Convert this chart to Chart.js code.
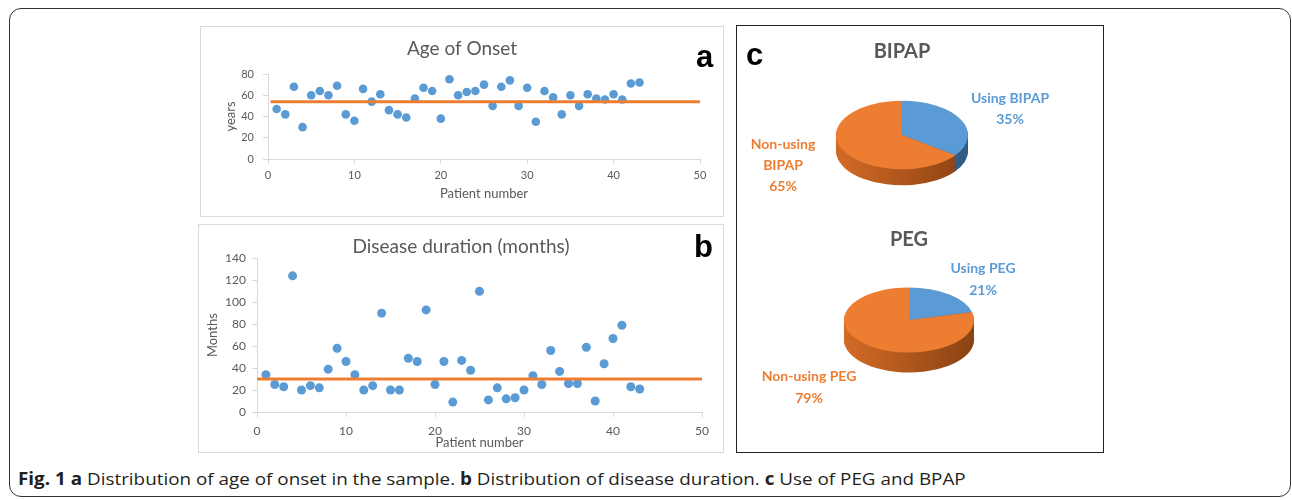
<!DOCTYPE html>
<html>
<head>
<meta charset="utf-8">
<script src="https://cdn.jsdelivr.net/npm/chart.js@4.4.1/dist/chart.umd.min.js"></script>
<style>
  body { margin: 0; width: 1292px; height: 500px; background: #fff; position: relative; overflow: hidden; font-family: Lato, sans-serif; }
  .abs { position: absolute; box-sizing: border-box; }
  #frame { left: 9px; top: 8px; width: 1282px; height: 489px; border: 1.5px solid #333; border-radius: 12px; }
  #boxA { left: 200px; top: 26px; width: 524px; height: 191px; border: 1.5px solid #d9d9d9; }
  #boxB { left: 198px; top: 224px; width: 526px; height: 229px; border: 1.5px solid #d9d9d9; }
  #boxC { left: 736px; top: 25px; width: 368px; height: 428px; border: 1.5px solid #222; }
  .letter { font-family: "Liberation Sans", Arial, sans-serif; font-weight: bold; font-size: 31px; line-height: 1; color: #000; }
  #caption { left: 18px; top: 468px; font-family: "Open Sans", sans-serif; font-size: 17px; line-height: 22px; color: #231f20; white-space: nowrap; transform-origin: 0 0; }
  canvas { position: absolute; }
</style>
</head>
<body>
<div id="frame" class="abs"></div>
<div id="boxA" class="abs"></div>
<div id="boxB" class="abs"></div>
<div id="boxC" class="abs"></div>
<canvas id="chartA" width="524" height="191" style="left:200px;top:26px"></canvas>
<canvas id="chartB" width="526" height="229" style="left:198px;top:224px"></canvas>
<canvas id="chartBipap" width="366" height="194" style="left:737px;top:26px"></canvas>
<canvas id="chartPeg" width="366" height="232" style="left:737px;top:220px"></canvas>
<div class="abs letter" style="left:696px;top:41px">a</div>
<div class="abs letter" style="left:694px;top:231px">b</div>
<div class="abs letter" style="left:746px;top:39px">c</div>
<div id="caption" class="abs"><b>Fig. 1</b> <b>a</b> Distribution of age of onset in the sample. <b>b</b> Distribution of disease duration. <b>c</b> Use of PEG and BPAP</div>
<script>
// patient number on the x axis
const patients = [1, 2, 3, 4, 5, 6, 7, 8, 9, 10, 11, 12, 13, 14, 15, 16, 17, 18, 19, 20, 21, 22,
  23, 24, 25, 26, 27, 28, 29, 30, 31, 32, 33, 34, 35, 36, 37, 38, 39, 40, 41, 42, 43]

// age of onset, years
const ageOnset = [47, 42, 68, 30, 60, 64, 60, 69, 42, 36, 66, 54, 61, 46, 42, 39, 57, 67, 64, 38, 75, 60,
  63, 64, 70, 50, 68, 74, 50, 67, 35, 64, 58, 42, 60, 50, 61, 57, 56, 61, 56, 71, 72]
const ageMeanX = [0.3, 50]
const ageMeanY = [54, 54]

// disease duration, months
const durationMonths = [34, 25, 23, 124, 20, 24, 22, 39, 58, 46, 34, 20, 24, 90, 20, 20, 49, 46, 93, 25, 46, 9,
  47, 38, 110, 11, 22, 12, 13, 20, 33, 25, 56, 37, 26, 26, 59, 10, 44, 67, 79, 23, 21]
const durationMeanX = [0, 50]
const durationMeanY = [30, 30]

// pies
const bipapLabels = ['Using BIPAP', 'Non-using BIPAP']
const bipapValues = [35, 65]
const pegLabels = ['Using PEG', 'Non-using PEG']
const pegValues = [21, 79]

const blue = '#5B9BD5'
const orange = '#ED7D31'
const grey = '#595959'
const axisGrey = '#d9d9d9'

Chart.defaults.font.family = 'Lato'
Chart.defaults.color = grey
Chart.defaults.animation = false

function scatterChart(id, ys, meanX, meanY, o) {
  return new Chart(document.getElementById(id), {
    type: 'scatter',
    data: {
      datasets: [{
        type: 'line',
        data: meanX.map((x, i) => ({ x: x, y: meanY[i] })),
        borderColor: orange,
        borderWidth: 3,
        pointRadius: 0,
        order: 0
      }, {
        data: patients.map((p, i) => ({ x: p, y: ys[i] })),
        backgroundColor: blue,
        borderWidth: 0,
        pointRadius: o.radius,
        order: 1
      }]
    },
    options: {
      responsive: false,
      events: [],
      layout: { padding: 0 },
      plugins: {
        legend: { display: false },
        tooltip: { enabled: false },
        title: {
          display: true,
          text: o.title,
          color: grey,
          font: { size: 19, weight: 'normal' },
          padding: { top: o.titleTop, bottom: o.titleBottom }
        }
      },
      scales: {
        x: {
          type: 'linear',
          min: 0,
          max: 50,
          afterFit: (s) => { s.height = o.xHeight },
          border: { color: axisGrey },
          grid: { drawOnChartArea: false, tickLength: 5, color: axisGrey },
          ticks: { stepSize: 10, padding: o.xTickPad, font: { size: o.tickSize }, color: grey },
          title: { display: true, text: 'Patient number', color: grey, font: { size: 13 }, padding: { top: 0, bottom: o.xTitlePad } }
        },
        y: {
          min: 0,
          max: o.yMax,
          afterFit: (s) => { s.width = o.yWidth },
          border: { color: axisGrey },
          grid: { drawOnChartArea: false, tickLength: 5, color: axisGrey },
          ticks: { stepSize: 20, padding: o.yTickPad, font: { size: o.tickSize }, color: grey },
          title: { display: true, text: o.yTitle, color: grey, font: { size: 13 }, padding: { top: o.yTitlePad, bottom: 0 } }
        },
        pad: {
          type: 'linear',
          position: 'right',
          border: { display: false },
          grid: { display: false },
          ticks: { display: false },
          afterFit: (s) => { s.width = o.rightPad }
        }
      }
    }
  })
}

scatterChart('chartA', ageOnset, ageMeanX, ageMeanY, {
  title: 'Age of Onset', titleTop: 11.6, titleBottom: 13.6, radius: 4.3,
  yMax: 80, yTitle: 'years', tickSize: 11,
  xHeight: 58, xTickPad: 4.4, xTitlePad: 15.2,
  yWidth: 68, yTickPad: 9, yTitlePad: 23, rightPad: 24
})

scatterChart('chartB', durationMonths, durationMeanX, durationMeanY, {
  title: 'Disease duration (months)', titleTop: 11.5, titleBottom: 0, radius: 4.5,
  yMax: 140, yTitle: 'Months', tickSize: 12,
  xHeight: 41, xTickPad: 6.5, xTitlePad: 2.5,
  yWidth: 59, yTickPad: 6, yTitlePad: 7.2, rightPad: 22
})

// squashes the pie into an ellipse and adds a side wall below it
const pie3d = {
  id: 'pie3d',
  beforeDatasetsDraw(chart, args, opts) {
    const ctx = chart.ctx
    const arcs = chart.getDatasetMeta(0).data
    const cx = arcs[0].x, cy = arcs[0].y, r = arcs[0].outerRadius
    const sides = opts.sideColors.map(c => {
      const g = ctx.createLinearGradient(cx - r, 0, cx + r, 0)
      g.addColorStop(0, c[0])
      g.addColorStop(1, c[1])
      return g
    })
    for (let d = opts.depth; d >= 1; d--) {
      ctx.save()
      ctx.translate(0, cy + d)
      ctx.scale(1, opts.squash)
      ctx.translate(0, -cy)
      arcs.forEach((arc, i) => {
        ctx.beginPath()
        ctx.moveTo(arc.x, arc.y)
        ctx.arc(arc.x, arc.y, arc.outerRadius, arc.startAngle, arc.endAngle)
        ctx.closePath()
        ctx.fillStyle = sides[i]
        ctx.fill()
      })
      ctx.restore()
    }
    ctx.save()
    ctx.translate(0, cy)
    ctx.scale(1, opts.squash)
    ctx.translate(0, -cy)
  },
  afterDatasetsDraw(chart) {
    chart.ctx.restore()
  }
}

const pieLabels = {
  id: 'pieLabels',
  afterDraw(chart, args, opts) {
    const ctx = chart.ctx
    const ds = chart.data.datasets[0]
    ctx.save()
    ctx.font = 'bold 14px Lato'
    ctx.textAlign = 'center'
    ctx.textBaseline = 'middle'
    chart.data.labels.forEach((lab, i) => {
      const lines = (opts.split[i] ? lab.split(' ') : [lab]).concat(ds.data[i] + '%')
      ctx.fillStyle = ds.backgroundColor[i]
      lines.forEach((t, j) => ctx.fillText(t, opts.pos[i][0], opts.pos[i][1] + j * opts.gap))
    })
    ctx.restore()
  }
}

function pieChart(id, title, labels, values, o) {
  return new Chart(document.getElementById(id), {
    type: 'pie',
    plugins: [pie3d, pieLabels],
    data: {
      labels: labels,
      datasets: [{ data: values, backgroundColor: [blue, orange], borderWidth: 0, clip: false }]
    },
    options: {
      responsive: false,
      events: [],
      layout: { padding: o.padding },
      plugins: {
        legend: { display: false },
        tooltip: { enabled: false },
        title: {
          display: true,
          text: title,
          color: grey,
          font: { size: 20, weight: 'bold' },
          padding: { top: o.titleTop, bottom: o.titleBottom }
        },
        pie3d: { depth: o.depth, squash: o.squash, sideColors: [['#4a7fb0', '#2f5b84'], ['#d36b26', '#8a4213']] },
        pieLabels: o.labels
      }
    }
  })
}

pieChart('chartBipap', 'BIPAP', bipapLabels, bipapValues, {
  padding: { left: 99, right: 135, top: 0, bottom: 19 },
  titleTop: 14, titleBottom: 5, depth: 16, squash: 0.52,
  labels: { pos: [[273, 72], [46, 118]], split: [false, true], gap: 21 }
})

pieChart('chartPeg', 'PEG', pegLabels, pegValues, {
  padding: { left: 107, right: 129, top: 0, bottom: 67 },
  titleTop: 8, titleBottom: 3, depth: 20, squash: 0.5,
  labels: { pos: [[246, 48], [72, 156]], split: [false, false], gap: 22 }
})

// stretch the caption to the width it has in the figure
const cap = document.getElementById('caption')
cap.style.transform = 'scaleX(' + (948 / cap.offsetWidth) + ')'
</script>
</body>
</html>
